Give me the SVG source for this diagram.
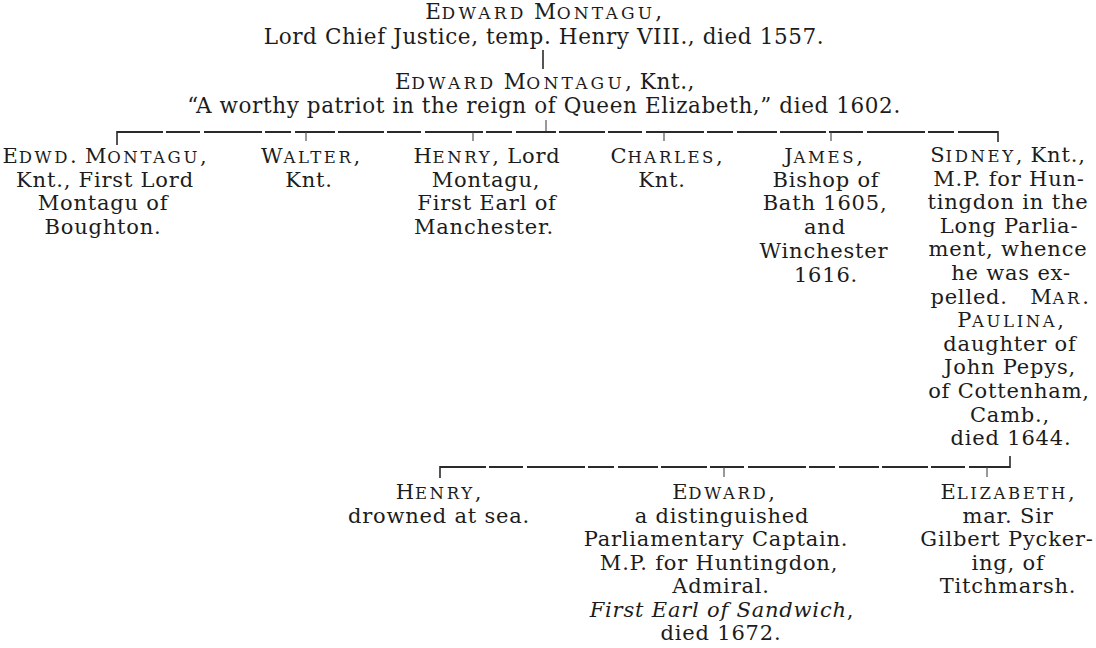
<svg xmlns="http://www.w3.org/2000/svg" width="1096" height="648" viewBox="0 0 1096 648">
<style>
text { font-family: "DejaVu Serif", "Liberation Serif", serif; font-size: 21px; fill: #1c1c1c; text-anchor: middle; letter-spacing: 0.8px; }
.top { font-size: 21.5px; letter-spacing: 0.6px; }
.sc { font-size: 16.5px; letter-spacing: 2.6px; }
.top .sc { font-size: 17px; letter-spacing: 3.2px; }
.it { font-style: italic; }
.ln { stroke: #2a2a2a; stroke-width: 1.6; fill: none; }
.br { stroke: #2a2a2a; stroke-width: 1.8; fill: none; stroke-dasharray: 46 3 34 4 58 3 26 4 40 3; }
.tk { stroke: #444; stroke-width: 1.1; fill: none; }
</style>
<rect width="1096" height="648" fill="#ffffff"/>

<g id="connectors">
  <line class="ln" x1="543" y1="50" x2="543" y2="69"/>
  <line class="tk" x1="546" y1="120" x2="546" y2="132"/>
  <line class="br" x1="117" y1="132" x2="998" y2="132"/>
  <line class="ln" x1="117" y1="131" x2="117" y2="145"/>
  <line class="ln" x1="998" y1="131" x2="998" y2="142"/>
  <line class="tk" x1="306" y1="132" x2="306" y2="141"/>
  <line class="tk" x1="473" y1="132" x2="473" y2="141"/>
  <line class="tk" x1="664" y1="132" x2="664" y2="141"/>
  <line class="tk" x1="831" y1="132" x2="831" y2="141"/>
  <line class="ln" x1="1010" y1="456" x2="1010" y2="468"/>
  <line class="br" x1="440" y1="467" x2="1010" y2="467"/>
  <line class="ln" x1="440" y1="466" x2="440" y2="478"/>
  <line class="tk" x1="724" y1="467" x2="724" y2="477"/>
  <line class="tk" x1="987" y1="467" x2="987" y2="477"/>
</g>

<g id="edward-lcj">
  <text class="top" x="544" y="19">E<tspan class="sc">DWARD</tspan> M<tspan class="sc">ONTAGU</tspan>,</text>
  <text class="top" x="544" y="44">Lord Chief Justice, temp. Henry VIII., died 1557.</text>
</g>

<g id="edward-knt">
  <text class="top" x="545" y="88.5">E<tspan class="sc">DWARD</tspan> M<tspan class="sc">ONTAGU</tspan>, Knt.,</text>
  <text class="top" x="544" y="112.5">“A worthy patriot in the reign of Queen Elizabeth,” died 1602.</text>
</g>

<g id="edwd-montagu">
  <text x="105" y="163">E<tspan class="sc">DWD</tspan>. M<tspan class="sc">ONTAGU</tspan>,</text>
  <text x="105" y="186.7">Knt., First Lord</text>
  <text x="103" y="210.4">Montagu of</text>
  <text x="103" y="234.1">Boughton.</text>
</g>

<g id="walter">
  <text x="311" y="163">W<tspan class="sc">ALTER</tspan>,</text>
  <text x="309" y="186.7">Knt.</text>
</g>

<g id="henry-manchester">
  <text x="487" y="163">H<tspan class="sc">ENRY</tspan>, Lord</text>
  <text x="486" y="186.7">Montagu,</text>
  <text x="487" y="210.4">First Earl of</text>
  <text x="484" y="234.1">Manchester.</text>
</g>

<g id="charles">
  <text x="667" y="163">C<tspan class="sc">HARLES</tspan>,</text>
  <text x="662" y="186.7">Knt.</text>
</g>

<g id="james">
  <text x="824" y="163">J<tspan class="sc">AMES</tspan>,</text>
  <text x="826" y="186.7">Bishop of</text>
  <text x="825" y="210.4">Bath 1605,</text>
  <text x="825" y="234.1">and</text>
  <text x="824" y="257.8">Winchester</text>
  <text x="826" y="281.5">1616.</text>
</g>

<g id="sidney">
  <text x="1008" y="162">S<tspan class="sc">IDNEY</tspan>, Knt.,</text>
  <text x="1009" y="185.6">M.P. for Hun-</text>
  <text x="1008" y="209.2">tingdon in the</text>
  <text x="1009" y="232.8">Long Parlia-</text>
  <text x="1008" y="256.4">ment, whence</text>
  <text x="1011" y="280">he was ex-</text>
  <text x="1010" y="303.6">pelled.&#160;&#160; M<tspan class="sc">AR</tspan>.</text>
  <text x="1011" y="327.2">P<tspan class="sc">AULINA</tspan>,</text>
  <text x="1010" y="350.8">daughter of</text>
  <text x="1010" y="374.4">John Pepys,</text>
  <text x="1009" y="398">of Cottenham,</text>
  <text x="1010" y="421.6">Camb.,</text>
  <text x="1011" y="445.2">died 1644.</text>
</g>

<g id="henry-drowned">
  <text x="439" y="499">H<tspan class="sc">ENRY</tspan>,</text>
  <text x="439" y="522.5">drowned at sea.</text>
</g>

<g id="edward-sandwich">
  <text x="724" y="499">E<tspan class="sc">DWARD</tspan>,</text>
  <text x="722" y="522.5">a distinguished</text>
  <text x="716" y="546">Parliamentary Captain.</text>
  <text x="719" y="569.5">M.P. for Huntingdon,</text>
  <text x="721" y="593">Admiral.</text>
  <text x="722" y="616.5" class="it">First Earl of Sandwich<tspan font-style="normal">,</tspan></text>
  <text x="721" y="640">died 1672.</text>
</g>

<g id="elizabeth">
  <text x="1008" y="499">E<tspan class="sc">LIZABETH</tspan>,</text>
  <text x="1008" y="522.5">mar. Sir</text>
  <text x="1007" y="546">Gilbert Pycker-</text>
  <text x="1008" y="569.5">ing, of</text>
  <text x="1008" y="593">Titchmarsh.</text>
</g>
</svg>
